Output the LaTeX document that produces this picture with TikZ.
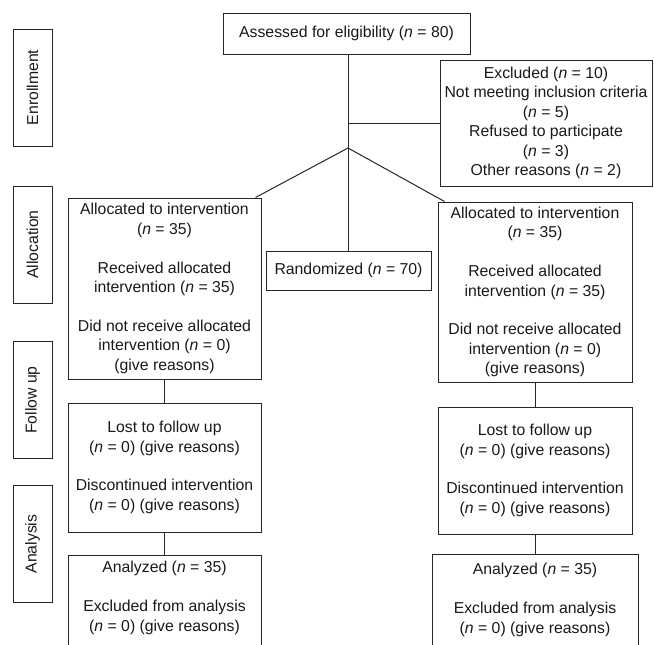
\documentclass[tikz,border=0pt]{standalone}
\usepackage{fontspec}
\setmainfont{Liberation Sans}
\begin{document}
\begin{tikzpicture}[x=1pt, y=-1pt, line width=1pt,
    box/.style ={rectangle, draw=black!85, align=center, inner sep=2pt,
    text=black!90, font=\fontsize{15.8}{19.4}\selectfont},
    stage/.style={box, rotate=90, minimum width=117, minimum height=39},
    tail/.style={box, anchor=north, inner ysep=6pt, text depth=120pt}
    ]
    \useasboundingbox (0,0) rectangle (654,645);
    \clip (0,0) rectangle (654,645);

    \node[stage] (enroll) at (32.5,87.5) {Enrollment};
    \node[stage] (alloc) at (32.5,244.5) {Allocation};
    \node[stage] (follow) at (32.5,400) {Follow up};
    \node[stage] (analysis) at (32.5,544) {Analysis};

    \node[box, minimum width=247, minimum height=41] (assess) at (346.5,33.5)
      {Assessed for eligibility (\textit{n} = 80)};
    \node[box, minimum width=212, minimum height=126] (excl) at (546,123)
      {Excluded (\textit{n} = 10)\\Not meeting inclusion criteria\\(\textit{n} = 5)\\
       Refused to participate\\(\textit{n} = 3)\\Other reasons (\textit{n} = 2)};
    \node[box, minimum width=165, minimum height=39] (rand) at (348.5,270.5)
      {Randomized (\textit{n} = 70)};

    \node[box, minimum width=193, minimum height=181] (allocL) at (164.5,288.5)
      {Allocated to intervention\\(\textit{n} = 35)\\[19.4pt]Received allocated\\
       intervention (\textit{n} = 35)\\[19.4pt]Did not receive allocated\\
       intervention (\textit{n} = 0)\\(give reasons)};
    \node[box, minimum width=194, minimum height=180] (allocR) at (535,292)
      {Allocated to intervention\\(\textit{n} = 35)\\[19.4pt]Received allocated\\
       intervention (\textit{n} = 35)\\[19.4pt]Did not receive allocated\\
       intervention (\textit{n} = 0)\\(give reasons)};

    \node[box, minimum width=193, minimum height=129] (followL) at (164.5,467.5)
      {Lost to follow up\\(\textit{n} = 0) (give reasons)\\[19.4pt]
       Discontinued intervention\\(\textit{n} = 0) (give reasons)};
    \node[box, minimum width=194, minimum height=127] (followR) at (535,470.5)
      {Lost to follow up\\(\textit{n} = 0) (give reasons)\\[19.4pt]
       Discontinued intervention\\(\textit{n} = 0) (give reasons)};

    \node[tail, minimum width=193] (analysisL) at (164.5,555)
      {Analyzed (\textit{n} = 35)\\[19.4pt]Excluded from analysis\\
       (\textit{n} = 0) (give reasons)};
    \node[tail, minimum width=206, inner ysep=9pt] (analysisR) at (535,554)
      {Analyzed (\textit{n} = 35)\\[19.4pt]Excluded from analysis\\
       (\textit{n} = 0) (give reasons)};

    \coordinate (split) at (348,148);
    \draw[black!85] (assess.south -| split) -- (split);
    \draw[black!85] (split) -- (split |- rand.north);
    \draw[black!85] (excl.west -| split) -- (excl.west);
    \draw[black!85] (split) -- ([xshift=-6]allocL.north east);
    \draw[black!85] (split) -- ([xshift=7]allocR.north west);
    \draw[black!85] (allocL) -- (followL);
    \draw[black!85] (followL) -- (analysisL);
    \draw[black!85] (allocR) -- (followR);
    \draw[black!85] (followR) -- (analysisR);
\end{tikzpicture}
\end{document}
